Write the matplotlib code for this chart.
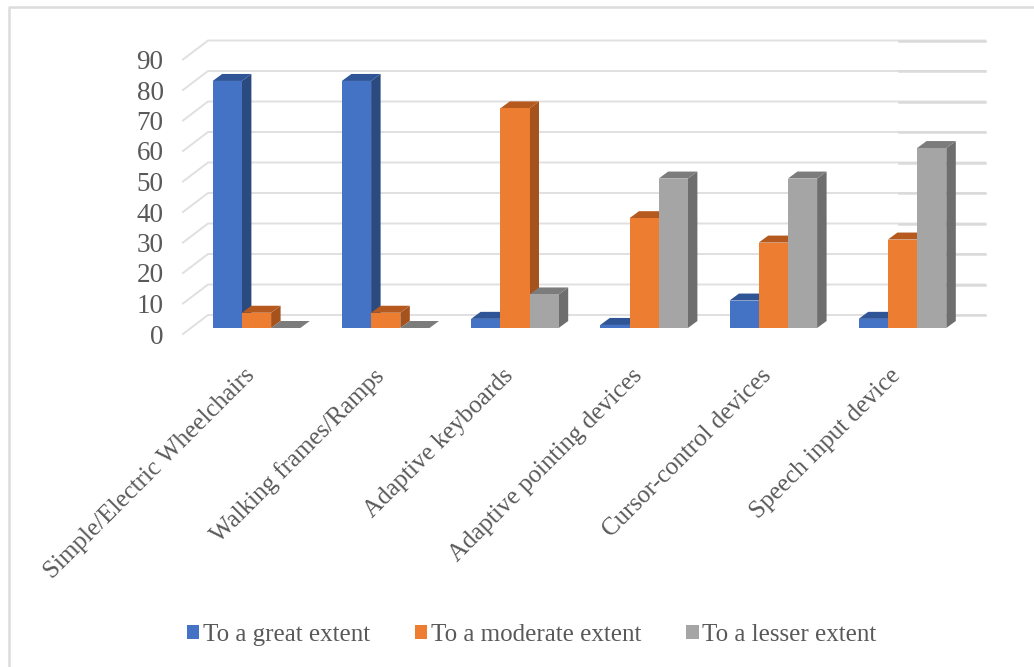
import matplotlib
matplotlib.use("Agg")
import matplotlib.pyplot as plt
from matplotlib.lines import Line2D
from matplotlib.patches import Polygon, Patch
from matplotlib.transforms import ScaledTranslation

plt.rcParams["font.family"] = ["Liberation Serif", "DejaVu Serif"]

categories = [
    "Simple/Electric Wheelchairs",
    "Walking frames/Ramps",
    "Adaptive keyboards",
    "Adaptive pointing devices",
    "Cursor-control devices",
    "Speech input device",
]
great = [81, 81, 3, 1, 9, 3]
moderate = [5, 5, 72, 36, 28, 29]
lesser = [0, 0, 11, 49, 49, 59]
series_names = ["To a great extent", "To a moderate extent", "To a lesser extent"]
y_ticks = list(range(0, 100, 10))

# front, top-face and side-face shades for each series
front_colors = ["#4472C4", "#ED7D31", "#A5A5A5"]
top_colors = ["#2F5597", "#B5591F", "#7C7C7C"]
side_colors = ["#2A4A80", "#A5521C", "#6E6E6E"]
text_color = "#595959"
grid_color = "#E0E0E0"

W, H = 1034, 667
fig = plt.figure(figsize=(W / 100, H / 100), dpi=100, facecolor="white")

# chart frame: only the left and top edges fall inside the canvas
fig.add_artist(Line2D([8.5 / W, 8.5 / W, 1], [0, 1 - 7 / H, 1 - 7 / H],
                      transform=fig.transFigure, color="#DCDCDC", lw=1.8))

# axes box in pixels; the pixel scale defines the data limits
left, right, top, bottom = 183, 985, 41, 334
ax = fig.add_axes([left / W, 1 - bottom / H, (right - left) / W, (bottom - top) / H])
group_px = 129.2
center_px = 256.5
unit_px = 3.05
base_px = 328
ax.set_xlim((left - center_px) / group_px, (right - center_px) / group_px)
ax.set_ylim((base_px - bottom) / unit_px, (base_px - top) / unit_px)
ax.patch.set_alpha(0)
for spine in ax.spines.values():
    spine.set_visible(False)

bar_w = 29.2 / group_px
depth_x = 9.5 / group_px
depth_y = 7 / unit_px

# back wall and side wall gridlines
wall_x0 = (208 - center_px) / group_px
wall_x1 = (right - center_px) / group_px
wall_x2 = (899 - center_px) / group_px
floor_x = (left - center_px) / group_px
wall_dy = 13 / unit_px
floor_dy = -6 / unit_px
for v in y_ticks:
    ax.plot([floor_x, wall_x0, wall_x1],
            [v + floor_dy, v + wall_dy, v + wall_dy],
            color=grid_color, lw=1.4, zorder=1, clip_on=False)
    ax.plot([wall_x2, wall_x1], [v + wall_dy, v + wall_dy],
            color="#DADADA", lw=1.8, zorder=1.5, clip_on=False)

# one bar per series, with extruded top and side faces
all_series = [great, moderate, lesser]
for s, values in enumerate(all_series):
    offset = (s - 1) * bar_w
    for i, v in enumerate(values):
        x0 = i + offset - bar_w / 2
        x1 = x0 + bar_w
        z = 3 + s + i * 4
        ax.add_patch(Polygon([(x1, 0), (x1 + depth_x, depth_y),
                              (x1 + depth_x, v + depth_y), (x1, v)],
                             facecolor=side_colors[s], edgecolor="none", zorder=z))
        ax.add_patch(Polygon([(x0, v), (x0 + depth_x, v + depth_y),
                              (x1 + depth_x, v + depth_y), (x1, v)],
                             facecolor=top_colors[s], edgecolor="none", zorder=z))
        ax.bar(i + offset, v, width=bar_w, color=front_colors[s], zorder=z + 0.5)

ax.set_yticks(y_ticks)
ax.set_yticklabels([str(t) for t in y_ticks], fontsize=19.5, color=text_color)
ax.tick_params(axis="y", length=0, pad=14)
shift_y = ScaledTranslation(0, -6 / 100, fig.dpi_scale_trans)
for label in ax.get_yticklabels():
    label.set_transform(label.get_transform() + shift_y)

ax.set_xticks(range(len(categories)))
ax.set_xticklabels(categories, rotation=45, ha="right", va="top",
                   rotation_mode="anchor", fontsize=18, color=text_color)
ax.tick_params(axis="x", length=0, pad=22)
shift_x = ScaledTranslation(-13 / 100, 0, fig.dpi_scale_trans)
for label in ax.get_xticklabels():
    label.set_transform(label.get_transform() + shift_x)

handles = [Patch(facecolor=c, edgecolor="none") for c in front_colors]
fig.legend(handles, series_names, loc="center", bbox_to_anchor=(531.5 / W, 1 - 635 / H),
           ncol=3, frameon=False, fontsize=18, labelcolor=text_color,
           handlelength=0.5, handleheight=0.5, handletextpad=0.14, columnspacing=1.8,
           borderpad=0, borderaxespad=0)

fig.savefig("out.png", dpi=100)
